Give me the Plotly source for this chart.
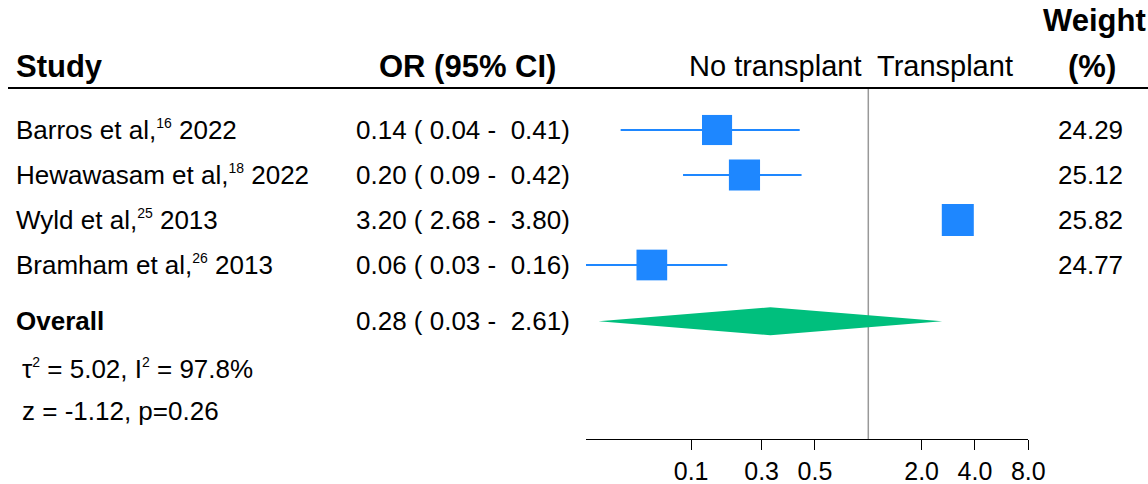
import math
import plotly.graph_objects as go

# ---- data ----
studies = ["Barros et al,", "Hewawasam et al,", "Wyld et al,", "Bramham et al,"]
refs = ["16", "18", "25", "26"]
years = ["2022", "2022", "2013", "2013"]
or_est = [0.14, 0.20, 3.20, 0.06]
ci_low = [0.04, 0.09, 2.68, 0.0255]
ci_high = [0.41, 0.42, 3.80, 0.16]
weights = [24.29, 25.12, 25.82, 24.77]
overall_est = 0.28
overall_low = 0.03
overall_high = 2.61
tau2 = "5.02"
i2 = "97.8%"
z_text = "z = -1.12, p=0.26"
tick_vals = [0.1, 0.25, 0.5, 2, 4, 8]
tick_text = ["0.1", "0.3", "0.5", "2.0", "4.0", "8.0"]

W, H = 1148, 484
BLUE = "#1E87FF"
GREEN = "#00BF7D"
FONT = "Liberation Sans, Arial, Helvetica, sans-serif"
FS = 26
FS_HEAD = 31

def sup(s):
    return f"<sup><span style='font-size:14px'>{s}</span></sup>"

row_y = [0, 1, 2, 3]
overall_y = 4.25
tau_y = 5.3
z_y = 6.25
head_y = -1.42
weight_y = -2.44
hline_y = -0.933

fig = go.Figure()

fig.add_trace(go.Scatter(x=[1, 1], y=[hline_y, 6.9], mode="lines",
                         line=dict(color="#999999", width=1.5), hoverinfo="skip",
                         showlegend=False, cliponaxis=False))

for y, lo, hi in zip(row_y, ci_low, ci_high):
    fig.add_trace(go.Scatter(x=[lo, hi], y=[y, y], mode="lines",
                             line=dict(color=BLUE, width=2), hoverinfo="skip",
                             showlegend=False, cliponaxis=False))

maxw = max(weights)
fig.add_trace(go.Scatter(x=or_est, y=row_y, mode="markers",
                         marker=dict(symbol="square", color=BLUE, opacity=1,
                                     size=[32 * w / maxw for w in weights],
                                     line=dict(width=0)),
                         showlegend=False, cliponaxis=False))

h = 0.31
fig.add_trace(go.Scatter(x=[overall_low, overall_est, overall_high, overall_est, overall_low],
                         y=[overall_y, overall_y - h, overall_y, overall_y + h, overall_y],
                         mode="lines", fill="toself", fillcolor=GREEN,
                         line=dict(color=GREEN, width=0), hoverinfo="skip",
                         showlegend=False, cliponaxis=False))

ann = []

def txt(x, y, s, anchor="left", bold=False, size=FS):
    ann.append(dict(x=x / W, y=y, xref="paper", yref="y", text=f"<b>{s}</b>" if bold else s,
                    showarrow=False, xanchor=anchor, yanchor="middle",
                    font=dict(family=FONT, size=size, color="black")))

txt(14, head_y, "Study", bold=True, size=FS_HEAD)
txt(558, head_y, "OR (95% CI)", anchor="right", bold=True, size=FS_HEAD)
txt(864, head_y, "No transplant", anchor="right", size=29)
txt(875, head_y, "Transplant", anchor="left", size=29)
txt(1148, weight_y, "Weight", anchor="right", bold=True, size=FS_HEAD)
txt(1092, head_y, "(%)", anchor="center", bold=True, size=FS_HEAD)

def fmt(v):
    return f"{v:.2f}"

for y, s, r, yr, e, lo, hi, w in zip(row_y, studies, refs, years, or_est, ci_low, ci_high, weights):
    txt(14, y, f"{s}{sup(r)} {yr}")
    txt(354, y, f"{fmt(e)} ( {fmt(lo)} -\u00a0 {fmt(hi)})")
    txt(1125, y, f"{w:.2f}", anchor="right")

txt(14, overall_y, "Overall", bold=True)
txt(354, overall_y, f"{fmt(overall_est)} ( {fmt(overall_low)} -\u00a0 {fmt(overall_high)})")
txt(20, tau_y, f"τ{sup('2')} = {tau2}, I{sup('2')} = {i2}")
txt(20, z_y, z_text)

shapes = [dict(type="line", xref="paper", yref="y", x0=8 / W, x1=1, y0=hline_y, y1=hline_y,
               line=dict(color="black", width=2))]

x_lo = math.log10(0.0255)
x_hi = math.log10(8)
px_axis_y = 439
px0 = 130
row_px = 45
y_top = (0 - px0) / row_px
y_bot = (px_axis_y - px0) / row_px

fig.update_layout(
    width=W, height=H, autosize=False,
    margin=dict(l=0, r=0, t=0, b=0, autoexpand=False),
    plot_bgcolor="white", paper_bgcolor="white",
    annotations=ann, shapes=shapes,
    xaxis=dict(type="log", range=[x_lo, x_hi], domain=[586 / W, 1028.3 / W],
               showgrid=False, zeroline=False, showline=True, linecolor="black", linewidth=1,
               ticks="outside", ticklen=10, tickcolor="black", tickwidth=1,
               tickvals=tick_vals, ticktext=tick_text, automargin=False,
               tickfont=dict(family=FONT, size=25, color="black")),
    yaxis=dict(range=[y_bot, y_top], domain=[(H - px_axis_y) / H, 1], visible=False,
               showgrid=False, zeroline=False, automargin=False),
)

post = (
    "document.body.style.margin='0';document.body.style.overflow='hidden';"
    "var gd=document.getElementById('{plot_id}');"
    "Plotly.relayout(gd,{'margin.l':0,'margin.r':0});"
)

fig.write_html("out.html", config={"displayModeBar": False, "responsive": False},
               post_script=post)
